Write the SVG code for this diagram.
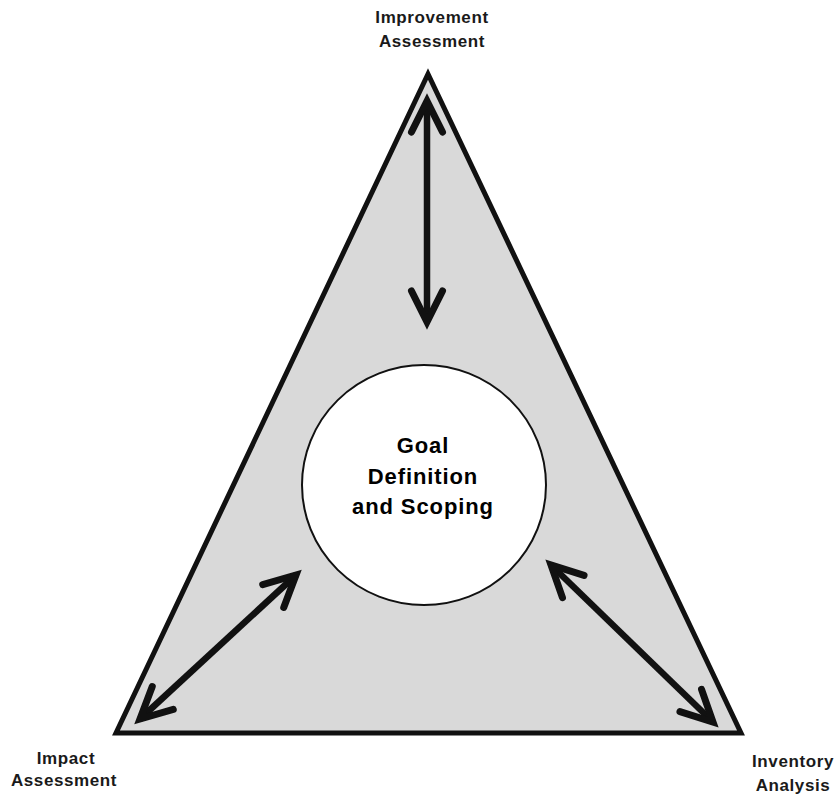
<svg xmlns="http://www.w3.org/2000/svg" width="835" height="794" viewBox="0 0 835 794">
  <style>
    .label { font-family: "Liberation Sans", Arial, sans-serif; font-weight: bold; font-size: 17px; letter-spacing: 0.6px; fill: #1a1a1a; text-anchor: middle; }
    .core { font-family: "Liberation Sans", Arial, sans-serif; font-weight: bold; font-size: 22px; letter-spacing: 0.9px; fill: #000; text-anchor: middle; }
    .link { stroke: #111; stroke-width: 6.5; fill: none; marker-start: url(#head); marker-end: url(#head); }
  </style>
  <defs>
    <marker id="head" markerUnits="userSpaceOnUse" viewBox="-40 -20 44 40" refX="0" refY="0" markerWidth="44" markerHeight="40" orient="auto-start-reverse" overflow="visible">
      <path d="M-31,-15.5 L0,0 L-31,15.5" fill="none" stroke="#111" stroke-width="7" stroke-linecap="round" stroke-linejoin="miter"/>
    </marker>
  </defs>

  <rect width="835" height="794" fill="#fff"/>

  <!-- Outer triangle -->
  <g id="triangle">
    <polygon points="428,74 116,733 741,733" fill="#d9d9d9" stroke="#111" stroke-width="5" stroke-linejoin="miter"/>
  </g>

  <!-- Connectors -->
  <g id="connectors">
    <line class="link" x1="427" y1="101" x2="427" y2="322"/>
    <line class="link" x1="140" y1="719" x2="296" y2="575"/>
    <line class="link" x1="551" y1="565" x2="713" y2="722"/>
  </g>

  <!-- Central node -->
  <g id="goal">
    <ellipse cx="424" cy="485" rx="122" ry="120" fill="#fff" stroke="#111" stroke-width="2"/>
    <text class="core" x="423" y="453">Goal</text>
    <text class="core" x="423" y="484">Definition</text>
    <text class="core" x="423" y="514">and Scoping</text>
  </g>

  <g id="improvement">
    <text class="label" x="432" y="23">Improvement</text>
    <text class="label" x="432" y="47">Assessment</text>
  </g>

  <g id="impact">
    <text class="label" x="66" y="764">Impact</text>
    <text class="label" x="64" y="786">Assessment</text>
  </g>

  <g id="inventory">
    <text class="label" x="793" y="767">Inventory</text>
    <text class="label" x="793" y="791">Analysis</text>
  </g>
</svg>
